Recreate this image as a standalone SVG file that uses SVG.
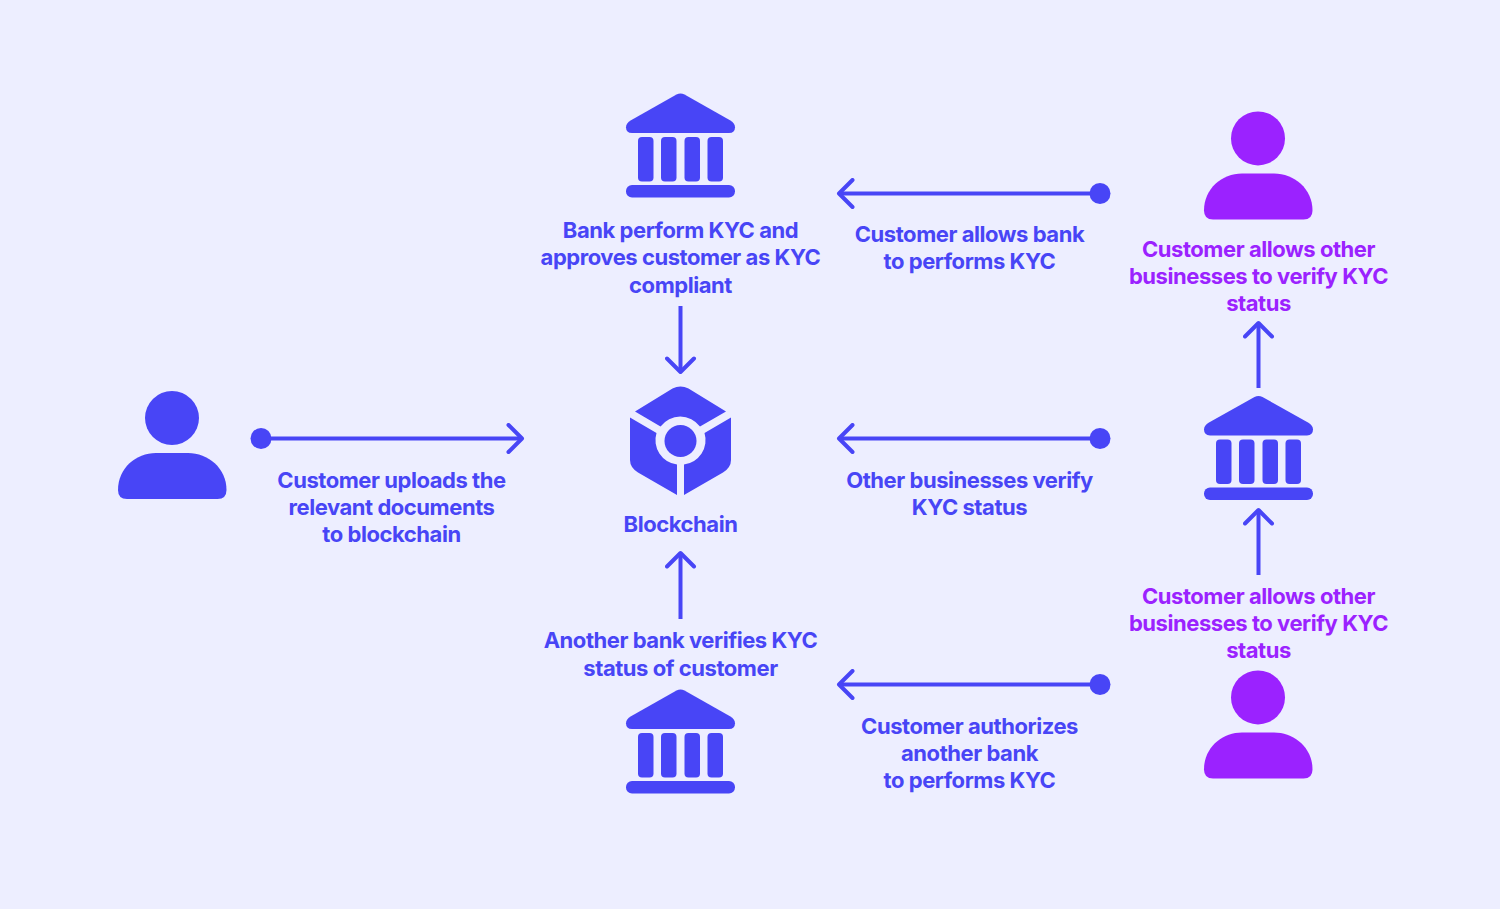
<svg xmlns="http://www.w3.org/2000/svg" width="1500" height="909" viewBox="0 0 1500 909">
<style>
.t{font-family:Inter,"Noto Sans",sans-serif;font-size:22px;font-weight:650;letter-spacing:-0.45px;text-anchor:middle;fill:#4845f6}
.p{fill:#9b22ff}
.c{stroke:#4845f6;stroke-width:4;fill:none;marker-end:url(#head)}
.d{fill:#4845f6}
</style>
<defs>
<marker id="head" markerUnits="userSpaceOnUse" viewBox="-20 -16 24 32" refX="0" refY="0" markerWidth="24" markerHeight="32" orient="auto">
<path d="M-13.5 -13.5L0 0L-13.5 13.5" fill="none" stroke="#4845f6" stroke-width="4" stroke-linecap="round" stroke-linejoin="round"/>
</marker>
<g id="bank">
<path d="M676.5 94.5Q680.5 92.500 684.500 94.5L730 120.200Q735 123.200 735 127.200Q735 133 729 133L632 133Q626 133 626 127.200Q626 123.200 631 120.200Z"/>
<rect x="638" y="137" width="15.5" height="44.5" rx="4"/>
<rect x="661" y="137" width="15.5" height="44.5" rx="4"/>
<rect x="684.500" y="137" width="15.500" height="44.5" rx="4"/>
<rect x="707.500" y="137" width="15.500" height="44.5" rx="4"/>
<rect x="626" y="185" width="109" height="12.500" rx="6"/>
</g>
<g id="person">
<circle cx="172" cy="418" r="27"/>
<path d="M127 499Q118 499 118 490C118 468 136 453 156 453L188 453C208 453 226.500 468 226.500 490Q226.500 499 217.500 499Z"/>
</g>
</defs>
<rect width="1500" height="909" fill="#edeeff"/>
<g id="connectors">
<path class="c" d="M261 438.500H522"/><circle class="d" cx="261" cy="438.500" r="10.500"/>
<path class="c" d="M1100 193.500H839"/><circle class="d" cx="1100" cy="193.500" r="10.500"/>
<path class="c" d="M1100 438.500H839"/><circle class="d" cx="1100" cy="438.500" r="10.500"/>
<path class="c" d="M1100 684.500H839"/><circle class="d" cx="1100" cy="684.500" r="10.500"/>
<path class="c" d="M680.500 306V372"/>
<path class="c" d="M680.500 619V553"/>
<path class="c" d="M1258.500 388V323"/>
<path class="c" d="M1258.500 575V510"/>
</g>
<g id="customer-left"><use href="#person" fill="#4845f6"/><text class="t" x="391.500" y="488">Customer uploads the</text><text class="t" x="391.500" y="515">relevant documents</text><text class="t" x="391.500" y="542">to blockchain</text></g>
<g id="bank-top"><use href="#bank" fill="#4845f6"/><text class="t" x="680.500" y="238.200">Bank perform KYC and</text><text class="t" x="680.500" y="265.200">approves customer as KYC</text><text class="t" x="680.500" y="292.500">compliant</text></g>
<g id="blockchain" fill="#4845f6">
<path d="M672.500 388.500Q680.500 384.500 688.500 388.500L726 411.500L700 426.500A24.500 24.500 0 0 0 660.500 426.500L635 411.500Z"/>
<path d="M630 417.500L656.500 433A24.500 24.500 0 0 0 677 464.500V495L638 472.500Q630 467.500 630 460Z"/>
<path d="M731 417.500L704.500 433A24.500 24.500 0 0 1 684 464.500V495L723 472.500Q731 467.500 731 460Z"/>
<circle cx="680.500" cy="441" r="16"/>
<text class="t" x="680.500" y="532">Blockchain</text>
</g>
<g id="bank-right"><use href="#bank" fill="#4845f6" transform="translate(578 302.400)"/></g>
<g id="bank-bottom"><use href="#bank" fill="#4845f6" transform="translate(0 596)"/><text class="t" x="680.500" y="648">Another bank verifies KYC</text><text class="t" x="680.500" y="675.500">status of customer</text></g>
<g id="customer-top"><use href="#person" fill="#9b22ff" transform="translate(1086 -279.600)"/><text class="t p" x="1258.500" y="256.500">Customer allows other</text><text class="t p" x="1258.500" y="283.500">businesses to verify KYC</text><text class="t p" x="1258.500" y="310.500">status</text></g>
<g id="customer-bottom"><use href="#person" fill="#9b22ff" transform="translate(1086 279.400)"/><text class="t p" x="1258.500" y="604">Customer allows other</text><text class="t p" x="1258.500" y="631">businesses to verify KYC</text><text class="t p" x="1258.500" y="658">status</text></g>
<g id="labels">
<text class="t" x="969.500" y="242">Customer allows bank</text><text class="t" x="969.500" y="269">to performs KYC</text>
<text class="t" x="969.500" y="488">Other businesses verify</text><text class="t" x="969.500" y="515">KYC status</text>
<text class="t" x="969.500" y="733.500">Customer authorizes</text><text class="t" x="969.500" y="760.500">another bank</text><text class="t" x="969.500" y="787.500">to performs KYC</text>
</g>
</svg>
